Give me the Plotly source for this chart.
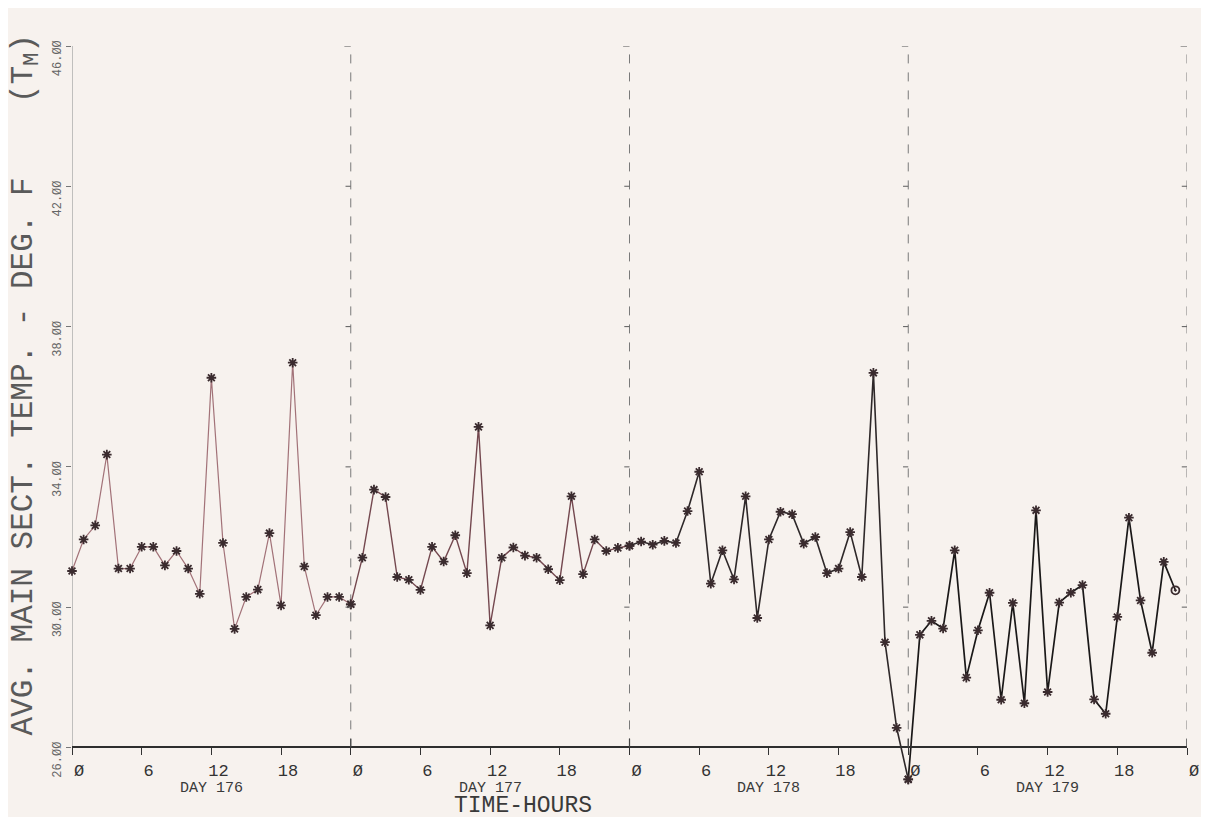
import plotly.graph_objects as go

# ---------------- data (hourly average main-section temperature, deg F) ----------------
day_numbers = [176, 177, 178, 179]

temp_day176 = [31.03, 31.93, 32.33, 34.35, 31.10, 31.10, 31.72, 31.72, 31.19, 31.60, 31.10, 30.38,
               36.54, 31.83, 29.38, 30.29, 30.50, 32.11, 30.05, 36.97, 31.16, 29.77, 30.29, 30.29]
temp_day177 = [30.08, 31.41, 33.35, 33.14, 30.86, 30.78, 30.49, 31.72, 31.30, 32.05, 30.97, 35.14,
               29.48, 31.41, 31.70, 31.47, 31.41, 31.08, 30.77, 33.16, 30.94, 31.93, 31.60, 31.69]
temp_day178 = [31.75, 31.87, 31.78, 31.89, 31.83, 32.74, 33.86, 30.67, 31.62, 30.79, 33.16, 29.69,
               31.93, 32.72, 32.65, 31.81, 32.00, 30.97, 31.10, 32.14, 30.86, 36.68, 29.00, 26.56]
temp_day179 = [25.09, 29.21, 29.61, 29.39, 31.62, 27.99, 29.34, 30.41, 27.36, 30.12, 27.26, 32.76,
               27.58, 30.13, 30.41, 30.63, 27.37, 26.96, 29.72, 32.55, 30.19, 28.70, 31.29, 30.48]

hour_tick_values = list(range(0, 97, 6))
hour_tick_labels = ["Ø", "6", "12", "18", "Ø", "6", "12", "18", "Ø",
                    "6", "12", "18", "Ø", "6", "12", "18", "Ø"]
temp_tick_values = [26, 30, 34, 38, 42, 46]
temp_tick_labels = ["26.ØØ", "3Ø.ØØ", "34.ØØ", "38.ØØ", "42.ØØ", "46.ØØ"]

# ---------------- styling ----------------
HOURS_PER_DAY = 24
BG = "#f7f2ee"
FONT = "Liberation Mono"
line_colors = ["#a27278", "#74484f", "#2e2829", "#1a1818"]
line_widths = [1.2, 1.4, 1.6, 1.7]
marker_color = "#3a2b2e"
Y_BOTTOM = 24.9          # a little below 26 so the dip below the axis is not clipped
ymin, ymax = temp_tick_values[0], temp_tick_values[-1]

days = [temp_day176, temp_day177, temp_day178, temp_day179]

fig = go.Figure()
for i, vals in enumerate(days):
    start = i * HOURS_PER_DAY
    xs = list(range(start, start + len(vals)))
    ys = list(vals)
    symbols = ["asterisk-open"] * len(vals)
    if i == len(days) - 1:
        symbols[-1] = "circle-open-dot"
    if i < len(days) - 1:
        xs.append(start + HOURS_PER_DAY)
        ys.append(days[i + 1][0])
        symbols.append("asterisk-open")
    fig.add_trace(go.Scatter(
        x=xs, y=ys, mode="lines+markers",
        line=dict(color=line_colors[i], width=line_widths[i]),
        marker=dict(symbol=symbols, size=8, color=marker_color,
                    line=dict(color=marker_color, width=1.8)),
        cliponaxis=False, showlegend=False, hoverinfo="x+y",
    ))

# left axis line, day separator lines with top hooks and small left ticks
shapes = [dict(type="line", xref="x", yref="y", x0=0, x1=0, y0=ymin, y1=ymax,
               line=dict(color="#a3a3a3", width=1.3), layer="below")]
for k in range(1, len(day_numbers) + 1):
    xb = k * HOURS_PER_DAY
    shapes.append(dict(type="line", xref="x", yref="y", x0=xb, x1=xb, y0=ymin, y1=ymax,
                       line=dict(color="#7a7a7a", width=1, dash="dash"), layer="below"))
    shapes.append(dict(type="line", xref="x", yref="y", x0=xb - 0.55, x1=xb, y0=ymax, y1=ymax,
                       line=dict(color="#6a6a6a", width=1.2)))
    shapes.append(dict(type="line", xref="x", yref="y", x0=xb, x1=xb, y0=ymin, y1=ymin + 0.25,
                       line=dict(color="#444444", width=1.2)))
    for tv in temp_tick_values[1:-1]:
        shapes.append(dict(type="line", xref="x", yref="y", x0=xb - 0.45, x1=xb, y0=tv, y1=tv,
                           line=dict(color="#6a6a6a", width=1.1)))

annotations = []
for i, d in enumerate(day_numbers):
    annotations.append(dict(x=i * HOURS_PER_DAY + 12, y=ymin, xref="x", yref="y",
                            text=f"DAY {d}", showarrow=False, yanchor="middle",
                            xanchor="center", yshift=-41,
                            font=dict(family=FONT, size=15, color="#3a3a3a")))
annotations.append(dict(x=38.8, y=ymin, xref="x", yref="y", text="TIME-HOURS",
                        showarrow=False, yanchor="middle", xanchor="center", yshift=-59,
                        font=dict(family=FONT, size=23, color="#3a3a3a")))
annotations.append(dict(x=0, y=36.32, xref="paper", yref="y",
                        text="AVG. MAIN SECT. TEMP. - DEG. F    (T<sub>M</sub>)",
                        textangle=-90, showarrow=False, xanchor="center", yanchor="middle",
                        xshift=-46, font=dict(family=FONT, size=31, color="#5a5a5a")))

fig.update_layout(
    width=1193, height=809,
    margin=dict(l=64, r=14, t=38, b=31, autoexpand=False),
    paper_bgcolor=BG, plot_bgcolor=BG,
    shapes=shapes, annotations=annotations,
    xaxis=dict(range=[0, 96], tickvals=hour_tick_values, ticktext=hour_tick_labels,
               anchor="free", position=(ymin - Y_BOTTOM) / (ymax - Y_BOTTOM),
               automargin=False,
               showgrid=False, zeroline=False, showline=True, linecolor="#2e2e2e",
               linewidth=1.6, ticks="outside", ticklen=7, tickcolor="#333333",
               tickwidth=1.2, ticklabelshift=7,
               tickfont=dict(family=FONT, size=17, color="#333333")),
    yaxis=dict(range=[Y_BOTTOM, ymax], tickvals=temp_tick_values, ticktext=temp_tick_labels,
               automargin=False,
               showgrid=False, zeroline=False, showline=False,
               ticks="outside", ticklen=5, tickcolor="#777777",
               tickangle=-90, ticklabelshift=14,
               tickfont=dict(family=FONT, size=12, color="#666666")),
)

fig.write_html("out.html")
